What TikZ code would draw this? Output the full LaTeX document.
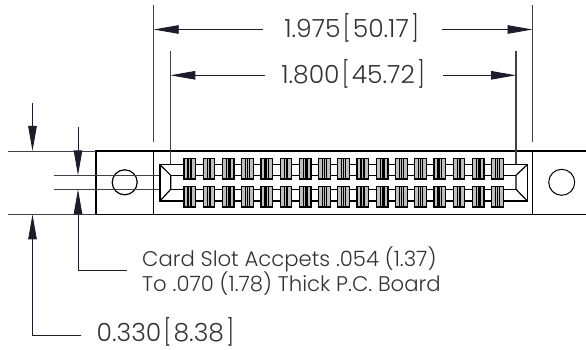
\documentclass[tikz,border=0pt]{standalone}
\usepackage{fontspec}
\setmainfont{Poppins Light}
\usetikzlibrary{arrows.meta}
\definecolor{dimc}{HTML}{1C1C2C}
\definecolor{txtc}{HTML}{333333}
\tikzset{
  x=1pt,y=-1pt,
  part/.style={line width=1.2pt,black},
  thinpart/.style={line width=1pt,black},
  dimline/.style={line width=0.9pt,dimc},
  extline/.style={line width=0.9pt,draw=dimc!85!white},
  arrowline/.style={dimline,-{Triangle[length=25pt,width=8.5pt]}},
  dimtext/.style={text=txtc,font=\fontsize{25}{28}\selectfont,inner sep=0pt,anchor=mid},
  notetext/.style={text=txtc,font=\fontsize{21.2}{24}\selectfont,inner sep=0pt,anchor=mid west},
  contact/.pic={
    \draw[line width=1.2pt,black,fill=black!25] (0,-10.3) rectangle (11.6,10.3);
    \draw[line width=1.2pt,black] (4,-10.3) -- (4,10.3) (7.6,-10.3) -- (7.6,10.3);
    \draw[line width=0.6pt,black] (5.8,-10.3) -- (5.8,10.3);
  }
}
\newcommand{\brk}[1]{\hspace{2.5pt}\scalebox{0.8}[1.03]{#1}\hspace{2.5pt}}
\begin{document}
\begin{tikzpicture}
\useasboundingbox (0,0) rectangle (586,350);
% named points
\coordinate (ext1a) at (153.7,5); \coordinate (ext1b) at (153.7,142);
\coordinate (ext2a) at (532.5,5); \coordinate (ext2b) at (532.5,142);
\coordinate (ext3a) at (170.3,51); \coordinate (ext3b) at (170.3,165);
\coordinate (ext4a) at (516,51); \coordinate (ext4b) at (516,165);
% body
\draw[part] (586,151) -- (96,151) -- (96,214.4) -- (586,214.4);
\draw[thinpart] (153.7,151) -- (153.7,214.4) (532.7,151) -- (532.7,214.4);
\node[draw,part,circle,minimum size=25pt,inner sep=0pt] (holeL) at (124.7,182.3) {};
\node[draw,thinpart,circle,minimum size=26pt,inner sep=0pt] (holeR) at (561.7,182.3) {};
% extension lines
\draw[extline] (8,151) -- (96,151) (8,214.4) -- (96,214.4);
\draw[extline] (53.5,175.3) -- (161,175.3) (53.5,189.3) -- (161,189.3);
\draw[extline] (ext1a) -- (ext1b) (ext2a) -- (ext2b) (ext3a) -- (ext3b);
\draw[extline,line width=1.1pt] (ext4a) -- (ext4b);
% slot
\draw[part] (170.7,175.3) -- (516,175.3) (170.7,189.3) -- (516,189.3);
\draw[part] (160,164.7) -- (527.3,164.7) -- (527.3,201) -- (160,201) -- cycle;
\draw[part] (160,164.7) -- (170.7,175.3) -- (170.7,189.3) -- (160,201);
\draw[part] (527.3,164.7) -- (516,175.3) -- (516,189.3) -- (527.3,201);
\foreach \i in {0,...,16}{
  \pgfmathsetmacro{\xx}{184+19.23*\i}
  \pic at (\xx,168.7) {contact};
  \pic at (\xx,196.7) {contact};
}
% horizontal dimensions
\node[dimtext] (d1) at (351.5,34.5) {1.975\brk{[}50.17\brk{]}};
\node[dimtext] (d2) at (353,80.3) {1.800\brk{[}45.72\brk{]}};
\coordinate (d1l) at (263,29.5); \coordinate (d1r) at (441.7,29.5);
\coordinate (d2l) at (265,75.3); \coordinate (d2r) at (443,75.3);
\coordinate (t1) at (153.7,29.5); \coordinate (t2) at (532.5,29.5);
\coordinate (t3) at (170.3,75.3); \coordinate (t4) at (516,75.3);
\draw[arrowline] (d1l) -- (t1);
\draw[arrowline] (d1r) -- (t2);
\draw[arrowline] (d2l) -- (t3);
\draw[arrowline] (d2r) -- (t4);
% vertical dimensions
\coordinate (a1) at (32.5,102.7); \coordinate (a1t) at (32.5,151);
\coordinate (a2) at (32.5,335); \coordinate (a2t) at (32.5,214.4);
\coordinate (a2e) at (81,335);
\coordinate (b1) at (78,127.3); \coordinate (b1t) at (78,175.3);
\coordinate (b2) at (78,270.3); \coordinate (b2t) at (78,189.3);
\coordinate (b2e) at (127,270.3);
\draw[arrowline] (a1) -- (a1t);
\draw[arrowline] (a2e) -- (a2) -- (a2t);
\draw[arrowline] (b1) -- (b1t);
\draw[arrowline] (b2e) -- (b2) -- (b2t);
% labels
\node[dimtext,anchor=mid west] (d3) at (96.5,339) {0.330\brk{[}8.38\brk{]}};
\node[notetext] (n1) at (142,264) {Card Slot Accpets .054 (1.37)};
\node[notetext] (n2) at (142,289) {To .070 (1.78) Thick P.C. Board};
\end{tikzpicture}
\end{document}
